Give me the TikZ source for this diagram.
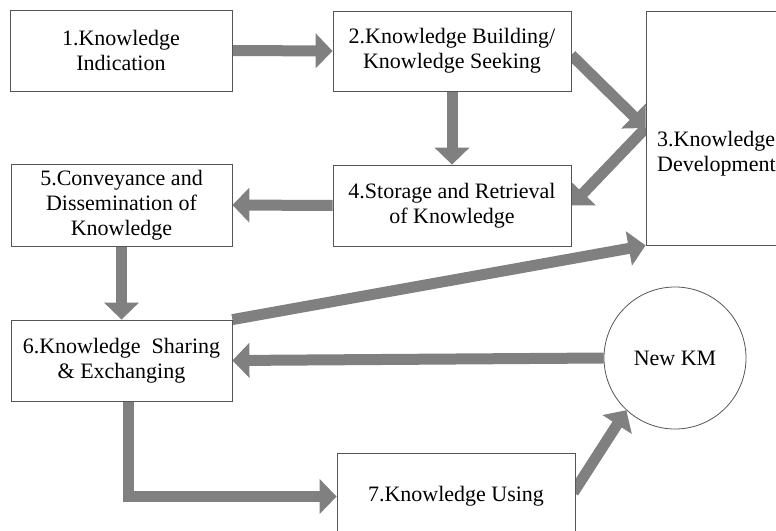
\documentclass[tikz,border=0pt]{standalone}
\usepackage{fontspec}
\setmainfont{Liberation Serif}
\usetikzlibrary{arrows.meta,calc,backgrounds}
\definecolor{arrowgray}{RGB}{128,128,128}
\definecolor{edgegray}{RGB}{85,85,85}
\begin{document}
\begin{tikzpicture}[x=1pt,y=-1pt,
  txt/.style={align=center, inner sep=0pt, font=\fontsize{22}{25}\selectfont},
  box/.style={txt, draw=edgegray, line width=0.8pt, fill=white},
  flow/.style={draw=arrowgray, line width=11pt, -{Triangle[width=34pt,length=17pt]}, color=arrowgray}]
\path[use as bounding box] (0,0) rectangle (776,530);
\clip (0,0) rectangle (776,530);
\node[box, minimum width=222pt, minimum height=81pt] (b1) at (121,50.5) {1.Knowledge\\Indication};
\node[box, minimum width=238pt, minimum height=80pt] (b2) at (452,51) {2.Knowledge Building/\\Knowledge Seeking};
\node[box, minimum width=144pt, minimum height=234pt] (b3) at (718,128) {};
\node[txt, anchor=west, align=left] (t3) at (657,154) {3.Knowledge\\Development};
\node[box, minimum width=238pt, minimum height=81pt] (b4) at (452,205.5) {4.Storage and Retrieval\\of Knowledge};
\node[box, minimum width=221pt, minimum height=82pt] (b5) at (121.5,205) {5.Conveyance and\\Dissemination of\\Knowledge};
\node[box, minimum width=221pt, minimum height=81pt] (b6) at (121.5,360.5) {6.Knowledge\ \ Sharing\\\& Exchanging};
\node[box, minimum width=238pt, minimum height=87pt] (b7) at (456,496.5) {7.Knowledge Using};
\node[box, circle, minimum size=142pt] (km) at (675,358) {New KM};
\begin{scope}[on background layer]
\draw[flow] (b1.east) -- (b2.west);
\draw[flow] (b2.south) -- (b4.north);
\draw[flow] ($(b2.east)+(0,4)$) -- (b3.west);
\draw[flow] (b3.west) -- (b4.east);
\draw[flow] (b4.west) -- (b5.east);
\draw[flow] (b5.south) -- (b6.north);
\draw[flow] (b6.north east) -- (b3.south west);
\draw[flow] (km.west) -- (b6.east);
\draw[flow] ($(b6.south)+(6.5,0)$) |- (b7.west);
\draw[flow] ($(b7.east)+(-2,-4)$) -- (km.227);
\end{scope}
\end{tikzpicture}
\end{document}
